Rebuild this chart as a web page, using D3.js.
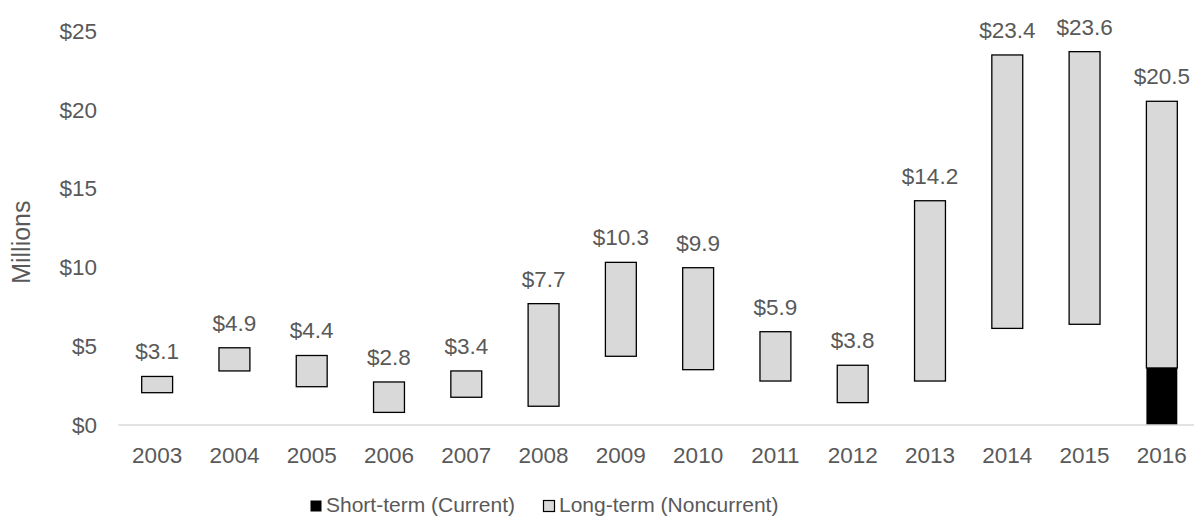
<!DOCTYPE html>
<html>
<head>
<meta charset="utf-8">
<script src="https://cdn.jsdelivr.net/npm/d3@7"></script>
<style>
  body { margin: 0; background: #fff; }
  svg { display: block; font-family: "Liberation Sans", Arial, sans-serif; }
</style>
</head>
<body>
<div id="chart"></div>
<script>
const years = ["2003","2004","2005","2006","2007","2008","2009","2010","2011","2012","2013","2014","2015","2016"];
// invisible floor under each bar
const base = [2.05,3.43,2.43,0.80,1.76,1.19,4.36,3.51,2.79,1.42,2.79,6.13,6.39,0];
const shortTerm = [0,0,0,0,0,0,0,0,0,0,0,0,0,3.62];
const longTerm = [1.03,1.47,1.98,1.93,1.67,6.51,5.96,6.47,3.13,2.37,11.44,17.35,17.3,16.92];
const totalLabels = ["$3.1","$4.9","$4.4","$2.8","$3.4","$7.7","$10.3","$9.9","$5.9","$3.8","$14.2","$23.4","$23.6","$20.5"];
const yTicks = [0,5,10,15,20,25];

const width = 1194, height = 516;
const textColor = "#595959";

const svg = d3.select('#chart')
  .append('svg')
  .attr('width', width)
  .attr('height', height);

const x = d3.scaleBand()
  .domain(years)
  .range([118.5, 1200.5])
  .paddingInner(0.6)
  .paddingOuter(0.3);

const y = d3.scaleLinear()
  .domain([0, 25])
  .range([425, 31]);

const rows = years.map((yr, i) => ({ year: yr, base: base[i], short: shortTerm[i], long: longTerm[i] }));
const stacked = d3.stack().keys(["base", "short", "long"])(rows);

// y tick labels (no gridlines)
svg.append('g').selectAll('text')
  .data(yTicks)
  .enter()
  .append('text')
  .attr('x', 97)
  .attr('y', d => y(d))
  .attr('dy', '0.35em')
  .attr('text-anchor', 'end')
  .attr('fill', textColor)
  .style('font-size', '22.5px')
  .text(d => '$' + d);

// axis title
svg.append('text')
  .attr('transform', 'translate(30,' + y(11.6) + ') rotate(-90)')
  .attr('text-anchor', 'middle')
  .attr('fill', textColor)
  .style('font-size', '25px')
  .text('Millions');

// short-term
svg.append('g').selectAll('rect')
  .data(stacked[1].filter(d => d[1] - d[0] > 0))
  .enter()
  .append('rect')
  .attr('x', d => x(d.data.year))
  .attr('y', d => y(d[1]))
  .attr('width', x.bandwidth())
  .attr('height', d => y(d[0]) - y(d[1]))
  .attr('fill', '#000');

// long-term
svg.append('g').selectAll('rect')
  .data(stacked[2])
  .enter()
  .append('rect')
  .attr('x', d => x(d.data.year))
  .attr('y', d => y(d[1]))
  .attr('width', x.bandwidth())
  .attr('height', d => y(d[0]) - y(d[1]))
  .attr('fill', '#d9d9d9')
  .attr('stroke', '#000')
  .attr('stroke-width', 1.3);

// x axis line
svg.append('line')
  .attr('x1', 118.5).attr('x2', width)
  .attr('y1', y(0)).attr('y2', y(0))
  .attr('stroke', '#d9d9d9')
  .attr('stroke-width', 1.5);

// x labels
svg.append('g').selectAll('text')
  .data(years)
  .enter()
  .append('text')
  .attr('x', d => x(d) + x.bandwidth() / 2)
  .attr('y', 462.5)
  .attr('text-anchor', 'middle')
  .attr('fill', textColor)
  .style('font-size', '22.5px')
  .text(d => d);

// value labels
svg.append('g').selectAll('text')
  .data(stacked[2])
  .enter()
  .append('text')
  .attr('x', d => x(d.data.year) + x.bandwidth() / 2)
  .attr('y', d => y(d[1]) - 17)
  .attr('text-anchor', 'middle')
  .attr('fill', textColor)
  .style('font-size', '22.5px')
  .text((d, i) => totalLabels[i]);

// legend
const legend = [
  { name: 'Short-term (Current)', fill: '#000', stroke: 'none', x: 310 },
  { name: 'Long-term (Noncurrent)', fill: '#d9d9d9', stroke: '#000', x: 543 }
];
const lg = svg.append('g').selectAll('g')
  .data(legend)
  .enter()
  .append('g');
lg.append('rect')
  .attr('x', d => d.x + 0.5)
  .attr('y', 500.5)
  .attr('width', 11)
  .attr('height', 11)
  .attr('fill', d => d.fill)
  .attr('stroke', d => d.stroke)
  .attr('stroke-width', 1.2);
lg.append('text')
  .attr('x', d => d.x + 16)
  .attr('y', 511.5)
  .attr('fill', textColor)
  .style('font-size', '21px')
  .text(d => d.name);
</script>
</body>
</html>
